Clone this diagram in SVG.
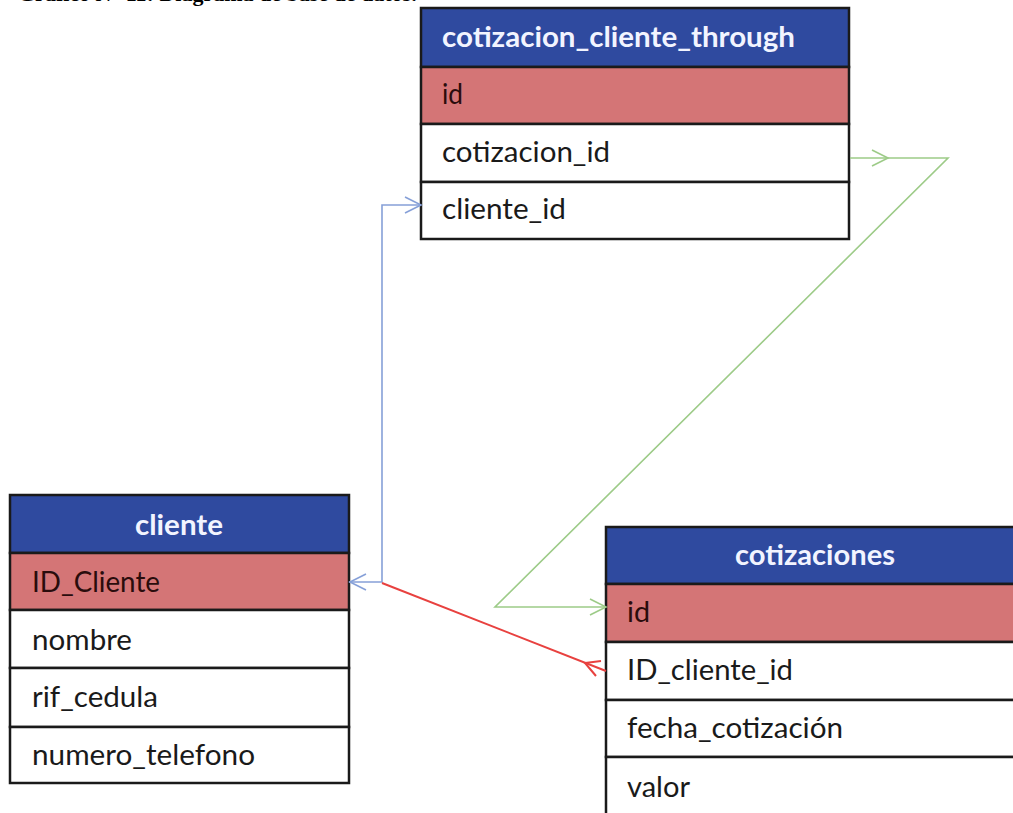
<svg xmlns="http://www.w3.org/2000/svg" width="1013" height="813" viewBox="0 0 1013 813">
  <style>
    .hdr { fill: #2f4a9f; stroke: #1a1a1a; stroke-width: 2.5; }
    .pk { fill: #d47576; stroke: #1a1a1a; stroke-width: 2.5; }
    .row { fill: #ffffff; stroke: #1a1a1a; stroke-width: 2.5; }
    .ht { font-family: Lato, "Open Sans", sans-serif; font-weight: bold; font-size: 28px; fill: #f2f4ff; }
    .pt { font-family: Lato, "Open Sans", sans-serif; font-size: 28px; fill: #2a0c0c; }
    .ft { font-family: Lato, "Open Sans", sans-serif; font-size: 28px; fill: #1a1a1a; }
    .cap { font-family: "Liberation Serif", serif; font-weight: bold; font-size: 22px; fill: #000; }
    .blue { fill: none; stroke: #86a0d8; stroke-width: 1.6; }
    .green { fill: none; stroke: #9dcb88; stroke-width: 1.6; }
    .red { fill: none; stroke: #e8413f; stroke-width: 2; }
  </style>
  <rect width="1013" height="813" fill="#ffffff"/>

  <!-- caption, clipped at the top edge -->
  <text class="cap" x="18" y="1">Gráfico N° 11: Diagrama de base de datos.</text>

  <!-- join table -->
  <g id="cotizacion_cliente_through">
    <rect class="hdr" x="421" y="8" width="428" height="59"/>
    <rect class="pk" x="421" y="67" width="428" height="57"/>
    <rect class="row" x="421" y="124" width="428" height="58"/>
    <rect class="row" x="421" y="182" width="428" height="57"/>
    <text class="ht" x="442" y="47" textLength="353" lengthAdjust="spacingAndGlyphs">cotizacion_cliente_through</text>
    <text class="pt" x="442" y="104" textLength="21" lengthAdjust="spacingAndGlyphs">id</text>
    <text class="ft" x="442" y="162" textLength="168" lengthAdjust="spacingAndGlyphs">cotizacion_id</text>
    <text class="ft" x="442" y="219" textLength="124" lengthAdjust="spacingAndGlyphs">cliente_id</text>
  </g>

  <!-- customer table -->
  <g id="cliente">
    <rect class="hdr" x="10" y="495" width="339" height="58"/>
    <rect class="pk" x="10" y="553" width="339" height="57"/>
    <rect class="row" x="10" y="610" width="339" height="58"/>
    <rect class="row" x="10" y="668" width="339" height="59"/>
    <rect class="row" x="10" y="727" width="339" height="56"/>
    <text class="ht" x="135" y="535" textLength="88" lengthAdjust="spacingAndGlyphs">cliente</text>
    <text class="pt" x="32" y="592" textLength="128" lengthAdjust="spacingAndGlyphs">ID_Cliente</text>
    <text class="ft" x="32" y="650" textLength="100" lengthAdjust="spacingAndGlyphs">nombre</text>
    <text class="ft" x="32" y="707" textLength="126" lengthAdjust="spacingAndGlyphs">rif_cedula</text>
    <text class="ft" x="32" y="765" textLength="223" lengthAdjust="spacingAndGlyphs">numero_telefono</text>
  </g>

  <!-- quotes table, running past the right and bottom edges -->
  <g id="cotizaciones">
    <rect class="hdr" x="606" y="527" width="420" height="57"/>
    <rect class="pk" x="606" y="584" width="420" height="58"/>
    <rect class="row" x="606" y="642" width="420" height="58"/>
    <rect class="row" x="606" y="700" width="420" height="57"/>
    <rect class="row" x="606" y="757" width="420" height="70"/>
    <text class="ht" x="735" y="565" textLength="160" lengthAdjust="spacingAndGlyphs">cotizaciones</text>
    <text class="pt" x="627" y="622" textLength="23" lengthAdjust="spacingAndGlyphs">id</text>
    <text class="ft" x="627" y="680" textLength="166" lengthAdjust="spacingAndGlyphs">ID_cliente_id</text>
    <text class="ft" x="627" y="738" textLength="216" lengthAdjust="spacingAndGlyphs">fecha_cotización</text>
    <text class="ft" x="627" y="797" textLength="63" lengthAdjust="spacingAndGlyphs">valor</text>
  </g>

  <!-- relations -->
  <g id="connectors">
    <!-- cliente.ID_Cliente <-> through.cliente_id -->
    <path class="blue" d="M349,582 H382 V205 H421"/>
    <path class="blue" d="M366,574 L350,582 L366,590"/>
    <path class="blue" d="M405,197 L421,205 L405,213"/>
    <!-- through.cotizacion_id -> cotizaciones.id -->
    <path class="green" d="M850,158 H948 L495,607 H606"/>
    <path class="green" d="M872,150 L888,158 L872,166"/>
    <path class="green" d="M590,599 L606,607 L590,615"/>
    <!-- cotizaciones.ID_cliente_id -> cliente.ID_Cliente -->
    <path class="red" d="M606,671 L382,583"/>
    <path class="red" d="M601,661 L585,663 L596,676" stroke-width="2.5"/>
  </g>
</svg>
